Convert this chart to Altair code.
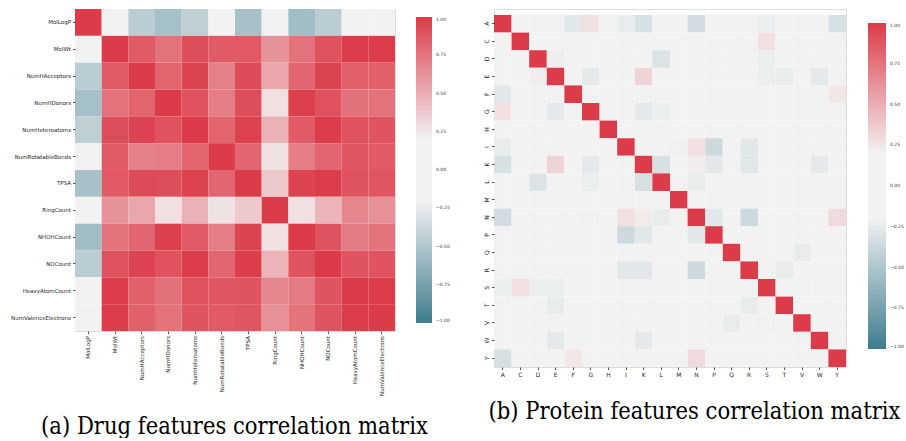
import altair as alt
import pandas as pd

# ---------------- data ----------------
drug_features = ["MolLogP", "MolWt", "NumHAcceptors", "NumHDonors", "NumHeteroatoms",
                 "NumRotatableBonds", "TPSA", "RingCount", "NHOHCount", "NOCount",
                 "HeavyAtomCount", "NumValenceElectrons"]

drug_corr = [
    [1.00, 0.10, -0.45, -0.54, -0.43, 0.05, -0.53, 0.08, -0.56, -0.45, 0.10, 0.10],
    [0.10, 1.00, 0.86, 0.76, 0.92, 0.86, 0.87, 0.62, 0.76, 0.90, 0.99, 0.99],
    [-0.45, 0.86, 1.00, 0.82, 0.96, 0.70, 0.93, 0.53, 0.81, 0.96, 0.84, 0.84],
    [-0.54, 0.76, 0.82, 1.00, 0.90, 0.71, 0.92, 0.28, 0.98, 0.90, 0.77, 0.76],
    [-0.43, 0.92, 0.96, 0.90, 1.00, 0.82, 0.97, 0.48, 0.86, 0.99, 0.90, 0.89],
    [0.05, 0.86, 0.70, 0.71, 0.82, 1.00, 0.81, 0.27, 0.71, 0.81, 0.88, 0.87],
    [-0.53, 0.87, 0.93, 0.92, 0.97, 0.81, 1.00, 0.38, 0.96, 0.99, 0.89, 0.88],
    [0.08, 0.62, 0.53, 0.28, 0.48, 0.27, 0.38, 1.00, 0.28, 0.47, 0.67, 0.63],
    [-0.56, 0.76, 0.81, 0.98, 0.86, 0.71, 0.96, 0.28, 1.00, 0.89, 0.72, 0.75],
    [-0.45, 0.90, 0.96, 0.90, 0.99, 0.81, 0.99, 0.47, 0.89, 1.00, 0.89, 0.89],
    [0.10, 0.99, 0.84, 0.77, 0.90, 0.88, 0.89, 0.67, 0.72, 0.89, 1.00, 0.99],
    [0.10, 0.99, 0.84, 0.76, 0.89, 0.87, 0.88, 0.63, 0.75, 0.89, 0.99, 1.00],
]

amino_acids = ["A", "C", "D", "E", "F", "G", "H", "I", "K", "L",
               "M", "N", "P", "Q", "R", "S", "T", "V", "W", "Y"]

protein_corr = [
    # A     C     D      E      F      G     H     I      K      L      M     N      P      Q      R      S      T      V      W      Y
    [1.00, 0.00, 0.00, 0.00, -0.27, 0.28, 0.00, -0.24, -0.32, 0.00, 0.00, -0.34, 0.00, 0.00, 0.00, -0.23, 0.00, 0.00, 0.00, -0.32],  # A
    [0.00, 1.00, 0.00, 0.00, 0.00, 0.00, 0.00, 0.00, 0.00, 0.00, 0.00, 0.00, 0.00, 0.00, 0.00, 0.28, 0.00, 0.00, 0.00, 0.00],  # C
    [0.00, 0.00, 1.00, 0.22, 0.00, 0.00, 0.00, 0.00, 0.00, -0.30, 0.00, 0.00, 0.00, 0.00, 0.00, -0.23, 0.00, 0.00, 0.00, 0.00],  # D
    [0.00, 0.00, 0.22, 1.00, 0.00, -0.26, 0.00, 0.00, 0.33, 0.00, 0.00, 0.00, 0.00, 0.00, 0.00, -0.23, -0.24, 0.00, -0.26, 0.00],  # E
    [-0.27, 0.00, 0.00, 0.00, 1.00, 0.00, 0.00, 0.00, 0.00, 0.00, 0.00, 0.00, 0.00, 0.00, 0.00, 0.00, 0.00, 0.00, 0.00, 0.25],  # F
    [0.28, 0.00, 0.00, -0.26, 0.00, 1.00, 0.00, 0.00, -0.26, -0.23, 0.00, -0.21, 0.00, 0.00, 0.00, 0.00, 0.00, 0.00, 0.00, 0.00],  # G
    [0.00, 0.00, 0.00, 0.00, 0.00, 0.00, 1.00, 0.00, 0.00, 0.00, 0.00, 0.00, 0.00, 0.00, 0.00, 0.00, 0.00, 0.00, 0.00, 0.00],  # H
    [-0.24, 0.00, 0.00, 0.00, 0.00, 0.00, 0.00, 1.00, 0.00, 0.00, 0.21, 0.28, -0.37, 0.00, -0.27, 0.00, 0.00, 0.00, 0.00, 0.00],  # I
    [-0.32, 0.00, 0.00, 0.33, 0.00, -0.26, 0.00, 0.00, 1.00, -0.32, 0.00, 0.23, -0.27, 0.00, -0.27, 0.00, 0.00, 0.00, -0.26, 0.00],  # K
    [0.00, 0.00, -0.30, 0.00, 0.00, -0.23, 0.00, 0.00, -0.32, 1.00, 0.00, -0.24, 0.00, 0.00, 0.00, 0.00, 0.00, 0.00, 0.00, 0.00],  # L
    [0.00, 0.00, 0.00, 0.00, 0.00, 0.00, 0.00, 0.21, 0.00, 0.00, 1.00, 0.00, 0.00, 0.00, 0.00, 0.00, 0.00, 0.00, 0.00, 0.00],  # M
    [-0.34, 0.00, 0.00, 0.00, 0.00, -0.21, 0.00, 0.28, 0.23, -0.24, 0.00, 1.00, -0.27, 0.00, -0.37, 0.00, 0.00, 0.00, 0.00, 0.30],  # N
    [0.00, 0.00, 0.00, 0.00, 0.00, 0.00, 0.00, -0.37, -0.27, 0.00, 0.00, -0.27, 1.00, 0.00, 0.00, 0.00, 0.00, 0.00, 0.00, 0.00],  # P
    [0.00, 0.00, 0.00, 0.00, 0.00, 0.00, 0.00, 0.00, 0.00, 0.00, 0.00, 0.00, 0.00, 1.00, 0.00, 0.00, 0.00, -0.24, 0.00, 0.00],  # Q
    [0.00, 0.00, 0.00, 0.00, 0.00, 0.00, 0.00, -0.27, -0.27, 0.00, 0.00, -0.37, 0.00, 0.00, 1.00, 0.00, -0.24, 0.00, 0.00, 0.00],  # R
    [-0.23, 0.28, -0.23, -0.23, 0.00, 0.00, 0.00, 0.00, 0.00, 0.00, 0.00, 0.00, 0.00, 0.00, 0.00, 1.00, 0.00, -0.21, 0.00, 0.00],  # S
    [0.00, 0.00, 0.00, -0.24, 0.00, 0.00, 0.00, 0.00, 0.00, 0.00, 0.00, 0.00, 0.00, 0.00, -0.24, 0.00, 1.00, 0.00, 0.00, 0.00],  # T
    [0.00, 0.00, 0.00, 0.00, 0.00, 0.00, 0.00, 0.00, 0.00, 0.00, 0.00, 0.00, 0.00, -0.24, 0.00, -0.21, 0.00, 1.00, 0.00, 0.00],  # V
    [0.00, 0.00, 0.00, -0.26, 0.00, 0.00, 0.00, 0.00, -0.26, 0.00, 0.00, 0.00, 0.00, 0.00, 0.00, 0.00, 0.00, 0.00, 1.00, 0.00],  # W
    [-0.32, 0.00, 0.00, 0.00, 0.25, 0.00, 0.00, 0.00, 0.00, 0.00, 0.00, 0.30, 0.00, 0.00, 0.00, 0.00, 0.00, 0.00, 0.00, 1.00],  # Y
]

colorbar_ticks = [1.0, 0.75, 0.5, 0.25, 0.0, -0.25, -0.5, -0.75, -1.0]
cmap_domain = [-1.0, -0.2, 0.2, 1.0]
cmap_colors = ["#3f7c8e", "#f2f2f2", "#f2f2f2", "#dc3b49"]

caption_a = "(a) Drug features correlation matrix"
caption_b = "(b) Protein features correlation matrix"


def to_long(names, mat):
    recs = []
    for i, rname in enumerate(names):
        for j, cname in enumerate(names):
            recs.append({"row": rname, "col": cname, "r": mat[i][j]})
    return pd.DataFrame(recs)


CAP_FONT = "DejaVu Serif Condensed, DejaVu Serif"
LBL_FONT = "DejaVu Sans"


def heatmap(names, mat, w, h, lbl_size, x_angle, y_angle, caption, cap_x, cap_y,
            leg_x, leg_y, leg_len, leg_thick, y_pad_outer=0.0):
    color = alt.Color(
        "r:Q",
        scale=alt.Scale(domain=cmap_domain, range=cmap_colors, interpolate="rgb"),
        legend=alt.Legend(
            orient="none", legendX=leg_x, legendY=leg_y, direction="vertical",
            gradientLength=leg_len, gradientThickness=leg_thick,
            values=colorbar_ticks, format=".2f", title=None, padding=0,
            labelFont=LBL_FONT, labelFontSize=4.5, labelColor="#333333",
            labelOffset=4, gradientStrokeWidth=0,
        ),
    )
    x_axis = alt.Axis(
        labelAngle=x_angle, labelFont=LBL_FONT, labelFontSize=lbl_size,
        labelColor="#262626", tickSize=2.5, tickColor="#262626", tickWidth=0.8,
        domain=False, labelPadding=2, title=caption, titleFont=CAP_FONT,
        titleFontSize=23.5, titleFontWeight="normal", titleColor="#000000",
        titleX=cap_x, titleY=cap_y, titleAlign="center", titleBaseline="alphabetic",
    )
    y_axis = alt.Axis(
        labelAngle=y_angle, labelFont=LBL_FONT, labelFontSize=lbl_size,
        labelColor="#262626", tickSize=2.5, tickColor="#262626", tickWidth=0.8,
        domain=False, labelPadding=2, title=None,
        **({"labelAlign": "center", "labelBaseline": "bottom"} if y_angle else {}),
    )
    y_scale = alt.Scale(paddingInner=0, paddingOuter=y_pad_outer, align=1)
    return alt.Chart(to_long(names, mat)).mark_rect().encode(
        x=alt.X("col:N", sort=names, axis=x_axis),
        y=alt.Y("row:N", sort=names, axis=y_axis, scale=y_scale),
        color=color,
    ).properties(width=w, height=h)


left = heatmap(drug_features, drug_corr, 320, 322, 5.5, -90, 0, caption_a,
               159, 102, 341, 8, 306, 16)
# right panel sits 6 px lower: the extra space goes above the first row
right = heatmap(amino_acids, protein_corr, 352, 358, 6, 0, -90, caption_b,
                200, 51, 374, 14, 326, 18, y_pad_outer=0.17)

chart = alt.hconcat(left, right, spacing=31).resolve_scale(color="independent").properties(
    padding={"left": 10, "top": 8, "right": 0, "bottom": 0}
).configure_view(stroke=None).configure(background="white")

chart.save("out.html", embed_options={"renderer": "svg", "actions": False})
